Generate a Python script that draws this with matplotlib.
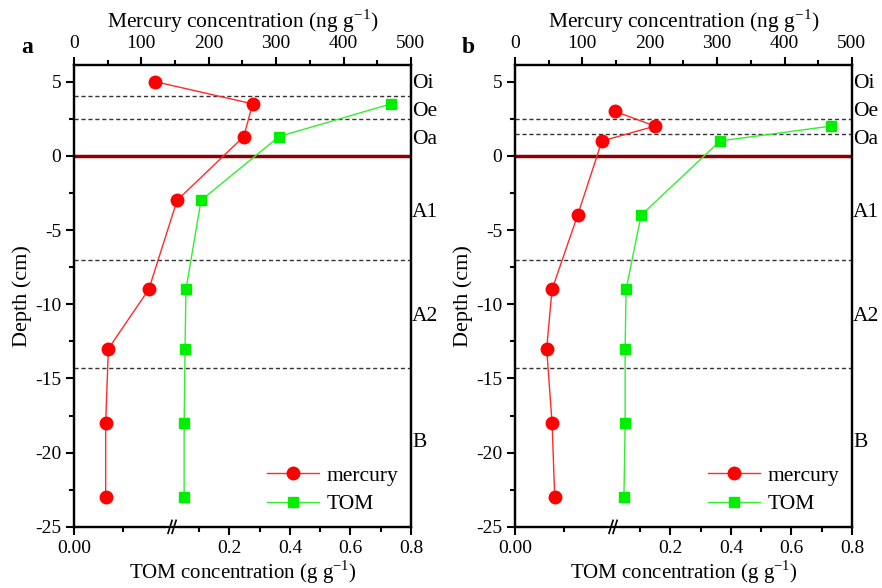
import numpy as np
import matplotlib.pyplot as plt
from matplotlib.ticker import MultipleLocator, FixedLocator, NullFormatter
from matplotlib.transforms import blended_transform_factory

plt.rcParams['font.family'] = ['Liberation Serif', 'DejaVu Serif']
plt.rcParams['mathtext.fontset'] = 'custom'
plt.rcParams['mathtext.rm'] = 'Liberation Serif'
plt.rcParams['axes.unicode_minus'] = False
plt.rcParams['font.size'] = 14

# panel a
depth_a_hg = [5, 3.5, 1.3, -3, -9, -13, -18, -23]
hg_a = [120, 265, 252, 153, 111, 51, 47, 47]
depth_a_tom = [3.5, 1.3, -3, -9, -13, -18, -23]
tom_a = [0.734, 0.364, 0.106, 0.056, 0.053, 0.050, 0.050]
bounds_a = [4.0, 2.5, -7, -14.3]

# panel b
depth_b_hg = [3, 2, 1, -4, -9, -13, -18, -23]
hg_b = [148, 208, 129, 93, 55, 47, 55, 59]
depth_b_tom = [2, 1, -4, -9, -13, -18, -23]
tom_b = [0.73, 0.364, 0.103, 0.053, 0.050, 0.050, 0.046]
bounds_b = [2.5, 1.5, -7, -14.3]

horizons = ['Oi', 'Oe', 'Oa', 'A1', 'A2', 'B']
horizon_y = [4.9, 3.0, 1.07, -3.8, -10.8, -19.3]

# broken TOM axis: [0, brk] takes the first part, [brk, 0.8] the rest
brk = 0.01
f0 = 0.291

def fwd(x):
    x = np.asarray(x, dtype=float)
    return np.where(x <= brk, x / brk * f0, f0 + (x - brk) / (0.8 - brk) * (1 - f0))

def inv(u):
    u = np.asarray(u, dtype=float)
    return np.where(u <= f0, u / f0 * brk, brk + (u - f0) / (1 - f0) * (0.8 - brk))


fig = plt.figure(figsize=(8.82, 5.88), dpi=100)
panels = [
    ('a', 0.0839, depth_a_hg, hg_a, depth_a_tom, tom_a, bounds_a),
    ('b', 0.5839, depth_b_hg, hg_b, depth_b_tom, tom_b, bounds_b),
]

for letter, left, dh, hg, dt, tom, bounds in panels:
    ax = fig.add_axes([left, 0.104, 0.382, 0.785])
    ax.set_xscale('function', functions=(fwd, inv))
    ax.set_xlim(0, 0.8)
    ax.set_ylim(-25, 6.1)
    ax.xaxis.set_major_locator(FixedLocator([0.0, 0.2, 0.4, 0.6, 0.8]))
    ax.xaxis.set_minor_locator(FixedLocator([0.005, 0.1, 0.3, 0.5, 0.7]))
    ax.set_xticklabels(['0.00', '0.2', '0.4', '0.6', '0.8'])
    ax.xaxis.set_minor_formatter(NullFormatter())
    ax.yaxis.set_major_locator(MultipleLocator(5))
    ax.yaxis.set_minor_locator(MultipleLocator(2.5))
    ax.set_xlabel(r'TOM concentration (g g$^{\mathrm{-1}}$)', fontsize=15, labelpad=1)
    ax.set_ylabel('Depth (cm)', fontsize=16, labelpad=2)

    ax2 = ax.twiny()
    ax2.set_xlim(0, 500)
    ax2.xaxis.set_major_locator(MultipleLocator(100))
    ax2.xaxis.set_minor_locator(MultipleLocator(50))
    ax2.set_xlabel(r'Mercury concentration (ng g$^{\mathrm{-1}}$)', fontsize=15.5, labelpad=5)

    for a in (ax, ax2):
        for s in a.spines.values():
            s.set_linewidth(1.6)
        a.tick_params(which='major', direction='out', length=6, width=1.5, pad=3)
        a.tick_params(which='minor', direction='out', length=3.5, width=1.5)
    ax.tick_params(axis='x', which='major', pad=3.5)
    ax2.tick_params(axis='x', which='major', pad=3.5)
    ax.tick_params(axis='y', which='both', right=False)

    for yb in bounds:
        ax.axhline(yb, color='#333333', lw=1.0, ls=(0, (3, 2)), zorder=1)
    ax.axhline(0, color='#8b0000', lw=2.5, zorder=2)

    ln_tom, = ax.plot(tom, dt, '-s', color='#33ee33', mfc='#00ee00', mec='#00ee00',
                      ms=7.5, lw=1.0, zorder=3)
    ln_hg, = ax2.plot(hg, dh, '-o', color='#ff2a2a', mfc='#ff0000', mec='#ff0000',
                      ms=9, lw=1.0, zorder=3)

    tr = blended_transform_factory(ax.transAxes, ax.transData)
    for name, yy in zip(horizons, horizon_y):
        ax.text(1.004, yy, name, transform=tr, ha='left', va='center', fontsize=15.5)

    # axis break marks on the bottom spine
    ax.plot([f0 - 0.012, f0 + 0.012], [0, 0], color='white', lw=3,
            transform=ax.transAxes, clip_on=False, zorder=10)
    for dx in (-0.006, 0.006):
        ax.plot([f0 + dx - 0.006, f0 + dx + 0.006], [-0.014, 0.014], color='black', lw=1.2,
                transform=ax.transAxes, clip_on=False, zorder=11)

    ax2.legend([ln_hg, ln_tom], ['mercury', 'TOM'], loc='lower right',
               bbox_to_anchor=(1.02, -0.015), frameon=False, handlelength=2.4,
               handletextpad=0.35, fontsize=15.5, labelspacing=0.4)

    fig.text(left - 0.06, 0.92, letter, fontsize=17, fontweight='bold', ha='left', va='center')

fig.savefig('out.png', dpi=100)
